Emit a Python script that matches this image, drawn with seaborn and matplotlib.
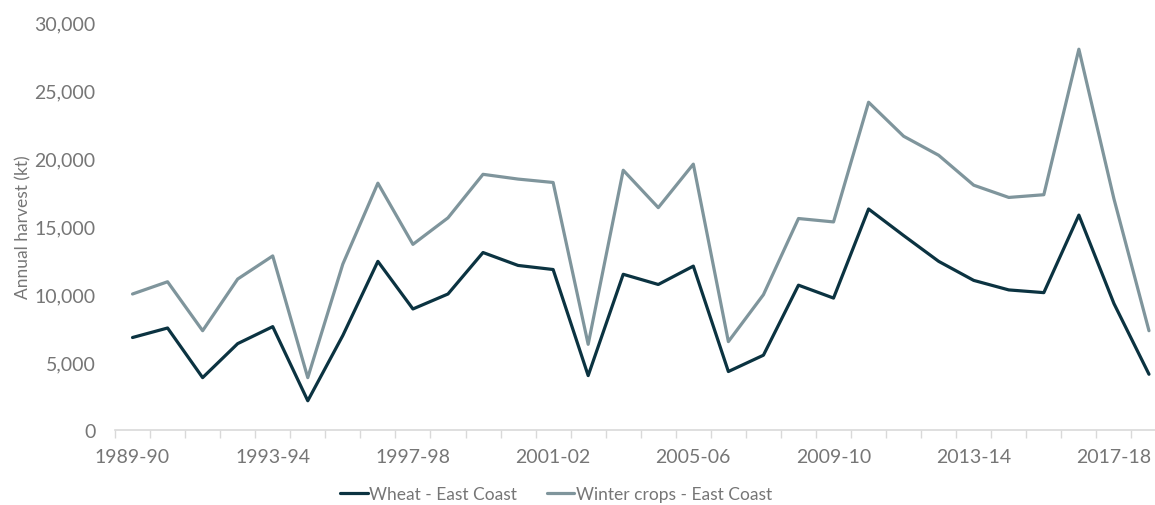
import matplotlib
matplotlib.use("Agg")
import matplotlib.pyplot as plt
from matplotlib.ticker import FuncFormatter, FixedLocator
import seaborn as sns
import pandas as pd
import numpy as np

# Harvest seasons (financial-year style labels)
seasons = [
    "1989-90", "1990-91", "1991-92", "1992-93", "1993-94", "1994-95",
    "1995-96", "1996-97", "1997-98", "1998-99", "1999-00", "2000-01",
    "2001-02", "2002-03", "2003-04", "2004-05", "2005-06", "2006-07",
    "2007-08", "2008-09", "2009-10", "2010-11", "2011-12", "2012-13",
    "2013-14", "2014-15", "2015-16", "2016-17", "2017-18", "2018-19",
]

# Annual harvest, kilotonnes
wheat_east = [
    6800, 7500, 3850, 6350, 7600, 2150, 6950, 12400, 8900, 10000,
    13050, 12100, 11800, 4000, 11450, 10700, 12050, 4300, 5500, 10650,
    9700, 16250, 14300, 12400, 11000, 10300, 10100, 15800, 9300, 4100,
]
winter_east = [
    10000, 10900, 7300, 11100, 12800, 3850, 12200, 18150, 13650, 15600,
    18800, 18450, 18200, 6300, 19100, 16350, 19550, 6500, 9950, 15550,
    15300, 24100, 21600, 20200, 18000, 17100, 17300, 28000, 17000, 7300,
]

series_names = ["Wheat - East Coast", "Winter crops - East Coast"]
series_colors = ["#0b3341", "#7f959c"]

df = pd.concat([
    pd.DataFrame({"idx": range(len(seasons)), "season": seasons,
                  "harvest": wheat_east, "series": series_names[0]}),
    pd.DataFrame({"idx": range(len(seasons)), "season": seasons,
                  "harvest": winter_east, "series": series_names[1]}),
])

sns.set_theme(style="white")
plt.rcParams["font.family"] = ["Lato", "DejaVu Sans"]

text_color = "#767676"
axis_color = "#d9d9d9"

fig = plt.figure(figsize=(11.55, 5.06), dpi=100)
ax = fig.add_axes([115 / 1155, 1 - 431 / 506, (1166.5 - 115) / 1155, (431 - 23) / 506])

sns.lineplot(
    data=df, x="idx", y="harvest", hue="series",
    palette=dict(zip(series_names, series_colors)),
    linewidth=2.3, ax=ax, legend=False,
)

ax.set_xlim(-0.5, len(seasons) - 0.5)
ax.set_ylim(0, 30000)

# y axis: labels only, no spine
ax.set_yticks(np.arange(0, 30001, 5000))
ax.yaxis.set_major_formatter(FuncFormatter(lambda v, p: f"{int(v):,}"))
ax.tick_params(axis="y", length=0, labelsize=14, labelcolor=text_color, pad=14)
ax.set_ylabel("Annual harvest (kt)", fontsize=12.5, color=text_color, labelpad=2)

# x axis: a label every fourth season, tick marks between all categories
label_pos = list(range(0, len(seasons), 4))
ax.set_xticks(label_pos)
ax.set_xticklabels([seasons[i] for i in label_pos])
ax.xaxis.set_minor_locator(FixedLocator(np.arange(-0.5, len(seasons), 1.0)))
ax.tick_params(axis="x", which="major", length=0, labelsize=14,
               labelcolor=text_color, pad=13)
ax.tick_params(axis="x", which="minor", length=6, width=1, color=axis_color,
               direction="out", bottom=True)
ax.set_xlabel("")

for side in ["top", "right", "left"]:
    ax.spines[side].set_visible(False)
ax.spines["bottom"].set_color(axis_color)
ax.spines["bottom"].set_linewidth(1.2)
ax.grid(False)

handles = [plt.Line2D([], [], color=c, linewidth=2.3) for c in series_colors]
fig.legend(
    handles, series_names, loc="center", ncol=2, frameon=False,
    bbox_to_anchor=(556 / 1155, 1 - 495 / 506), fontsize=12.5,
    handlelength=1.6, handletextpad=0.1, columnspacing=1.7,
    labelcolor=text_color,
)

fig.savefig("out.png", dpi=100)
